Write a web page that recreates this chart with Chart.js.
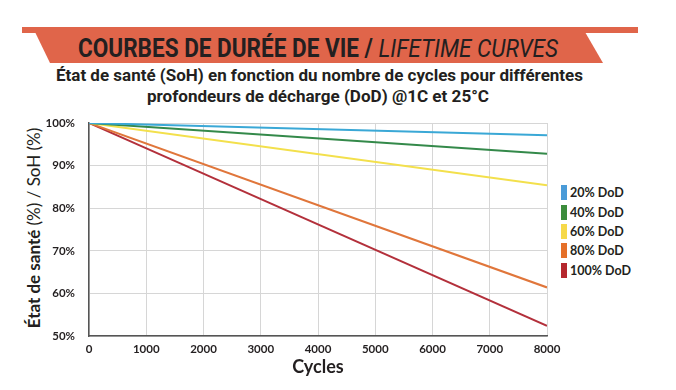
<!DOCTYPE html>
<html><head><meta charset="utf-8">
<script src="https://cdn.jsdelivr.net/npm/chart.js@4/dist/chart.umd.min.js"></script>
<style>
html,body{margin:0;padding:0;background:#fff;width:676px;height:390px;overflow:hidden;}
#wrap{position:relative;width:676px;height:390px;}
#strip{position:absolute;left:22px;top:27px;width:616px;height:6px;background:#e0654a;}
#band{position:absolute;left:35px;top:32px;width:570px;height:31px;background:#e0654a;
 clip-path:polygon(0px 0px,550px 0px,568px 31px,15px 31px);}
.fit{position:absolute;white-space:nowrap;transform-origin:0 0;color:#231f20;}
#title{top:35px;font-family:Roboto,sans-serif;font-weight:bold;font-size:25px;line-height:28px;}
#title i{font-weight:normal;}
#sub1,#sub2{font-family:Roboto,sans-serif;font-weight:bold;font-size:16px;line-height:20px;}
#sub1{top:66px;}
#sub2{top:87px;}
#ytitle{position:absolute;left:33px;top:228px;transform:translate(-50%,-50%) rotate(-90deg);white-space:nowrap;font-family:Lato,sans-serif;font-size:17px;color:#231f20;}
#ytitle b{font-weight:bold;}
#legend{position:absolute;left:561px;top:183px;font-family:Lato,sans-serif;font-weight:bold;font-size:12.5px;color:#231f20;}
.li{height:19.4px;display:flex;align-items:center;}
.sw{width:6px;height:15px;margin-right:3px;}
canvas{position:absolute;left:0;top:0;}
</style></head>
<body><div id="wrap">
<div id="strip"></div><div id="band"></div>
<div id="title" class="fit" data-cx="318" data-w="480">COURBES DE DURÉE DE VIE / <i>LIFETIME CURVES</i></div>
<div id="sub1" class="fit" data-cx="319" data-w="527">État de santé (SoH) en fonction du nombre de cycles pour différentes</div>
<div id="sub2" class="fit" data-cx="318" data-w="342">profondeurs de décharge (DoD) @1C et 25°C</div>
<div id="ytitle"><b>État de santé</b> (%) / SoH (%)</div>
<div id="legend"></div>
<canvas id="c" width="676" height="390"></canvas>
</div>
<script>
const cycles = [0, 8000];
const soh20 = [100, 97.1];
const soh40 = [100, 92.8];
const soh60 = [100, 85.4];
const soh80 = [100, 61.4];
const soh100 = [100, 52.4];
const seriesLabels = ['20% DoD','40% DoD','60% DoD','80% DoD','100% DoD'];
const yTicks = [50,60,70,80,90,100];
const xTicks = [0,1000,2000,3000,4000,5000,6000,7000,8000];

const lineColors = ['#3aa8d6','#34894a','#f3e04c','#e0763b','#b3303b'];
const boxColors = ['#4a9bd8','#3c8c3c','#f6d94a','#e5702a','#b5282e'];
const allSeries = [soh20, soh40, soh60, soh80, soh100];

document.querySelectorAll('.fit').forEach(el=>{
  const w = el.getBoundingClientRect().width;
  const tw = +el.dataset.w, cx = +el.dataset.cx;
  const s = tw / w;
  el.style.left = (cx - tw/2) + 'px';
  el.style.transform = 'scaleX(' + s + ')';
});

const datasets = allSeries.map((s,i)=>({
  label: seriesLabels[i],
  data: cycles.map((c,j)=>({x:c,y:s[j]})),
  borderColor: lineColors[i],
  backgroundColor: lineColors[i],
  borderWidth: 2,
  pointRadius: 0,
  tension: 0,
  fill: false
}));

const lg = document.getElementById('legend');
seriesLabels.forEach((l,i)=>{
  const d=document.createElement('div');d.className='li';
  d.innerHTML='<span class="sw" style="background:'+boxColors[i]+'"></span><span>'+l+'</span>';
  lg.appendChild(d);
});

const tickFont = {family:'Lato, sans-serif', weight:'bold', size:11.5};
new Chart(document.getElementById('c'), {
  type: 'line',
  data: { datasets },
  options: {
    responsive:false, animation:false,
    layout:{padding:{left:20,right:129,top:123,bottom:10}},
    plugins:{legend:{display:false},tooltip:{enabled:false}},
    scales:{
      x:{type:'linear',min:0,max:8000,
        afterBuildTicks:(s)=>{s.ticks=xTicks.map(v=>({value:v}));},
        afterFit:(s)=>{s.height=44;},
        grid:{color:'#d6d6d6',drawTicks:false,lineWidth:1},
        border:{color:'#555',width:1.5},
        ticks:{font:tickFont,color:'#231f20',padding:6,maxRotation:0,autoSkip:false,callback:(v)=>String(v)},
        title:{display:true,text:'Cycles',font:{family:'Lato, sans-serif',weight:'bold',size:18},color:'#231f20',padding:{top:0,bottom:2}}
      },
      y:{min:50,max:100,
        afterBuildTicks:(s)=>{s.ticks=yTicks.map(v=>({value:v}));},
        afterFit:(s)=>{s.width=69;},
        grid:{color:'#d6d6d6',drawTicks:false,lineWidth:1},
        border:{color:'#555',width:1.5},
        ticks:{font:tickFont,color:'#231f20',padding:14,callback:(v)=>v+'%'}
      }
    }
  }
});
</script>
</body></html>
